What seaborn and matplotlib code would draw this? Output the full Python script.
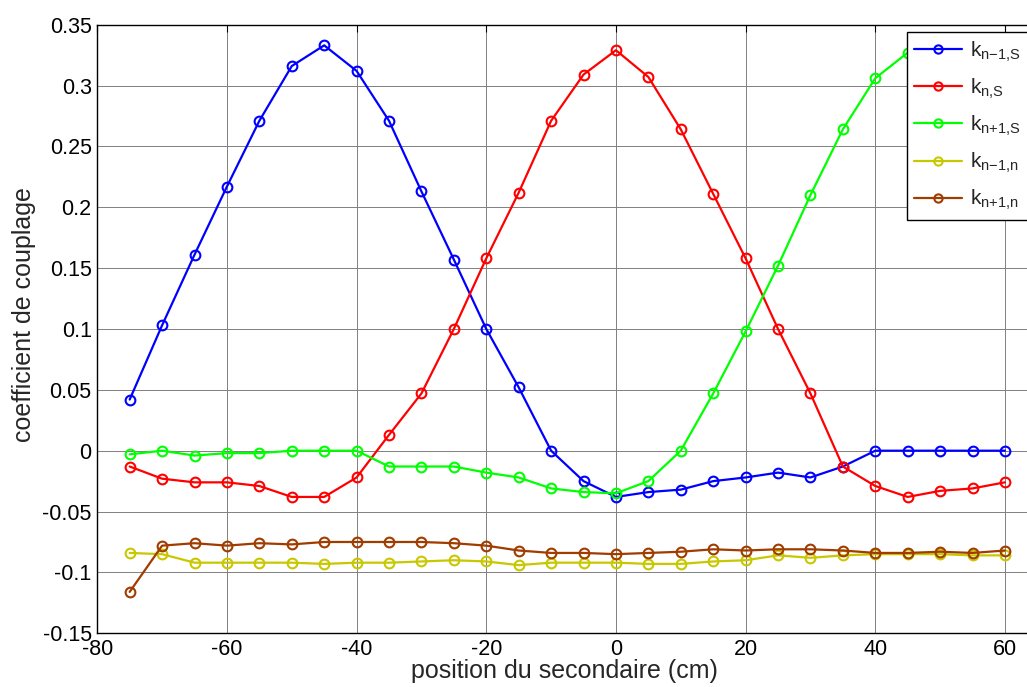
import numpy as np
import pandas as pd
import seaborn as sns
import matplotlib
matplotlib.use("Agg")
import matplotlib.pyplot as plt

# positions (cm)
position = list(range(-75, 61, 5))

k_nm1_S = [0.042, 0.103, 0.161, 0.217, 0.271, 0.316, 0.333, 0.312, 0.271, 0.213,
           0.157, 0.100, 0.052, 0.0, -0.025, -0.038, -0.034, -0.032, -0.025, -0.022,
           -0.018, -0.022, -0.013, 0.0, 0.0, 0.0, 0.0, 0.0]
k_n_S = [-0.013, -0.023, -0.026, -0.026, -0.029, -0.038, -0.038, -0.022, 0.013, 0.047,
         0.100, 0.158, 0.212, 0.271, 0.309, 0.329, 0.307, 0.264, 0.211, 0.158,
         0.100, 0.047, -0.013, -0.029, -0.038, -0.033, -0.031, -0.026]
k_np1_S = [-0.003, 0.0, -0.004, -0.002, -0.002, 0.0, 0.0, 0.0, -0.013, -0.013,
           -0.013, -0.018, -0.022, -0.031, -0.034, -0.035, -0.025, 0.0, 0.047, 0.098,
           0.152, 0.210, 0.264, 0.306, 0.327, 0.307, 0.264, 0.211]
k_nm1_n = [-0.084, -0.085, -0.092, -0.092, -0.092, -0.092, -0.093, -0.092, -0.092, -0.091,
           -0.090, -0.091, -0.094, -0.092, -0.092, -0.092, -0.093, -0.093, -0.091, -0.090,
           -0.086, -0.088, -0.086, -0.085, -0.085, -0.085, -0.086, -0.086]
k_np1_n = [-0.116, -0.078, -0.076, -0.078, -0.076, -0.077, -0.075, -0.075, -0.075, -0.075,
           -0.076, -0.078, -0.082, -0.084, -0.084, -0.085, -0.084, -0.083, -0.081, -0.082,
           -0.081, -0.081, -0.082, -0.084, -0.084, -0.083, -0.084, -0.082]

# {-} / {+} : pas d'espace autour des operateurs dans les indices
labels = ["$k_{n{-}1{,}S}$", "$k_{n{,}S}$", "$k_{n{+}1{,}S}$", "$k_{n{-}1{,}n}$", "$k_{n{+}1{,}n}$"]
couleurs = ["#0000ff", "#ff0000", "#00ff00", "#c8c800", "#a03c00"]

sns.set_style("white")
plt.rcParams['font.family'] = ['Liberation Sans', 'DejaVu Sans']
plt.rcParams['mathtext.fontset'] = 'custom'
plt.rcParams['mathtext.rm'] = 'Liberation Sans'
plt.rcParams['mathtext.it'] = 'Liberation Sans'
plt.rcParams['mathtext.default'] = 'regular'
plt.rcParams['axes.unicode_minus'] = False

fig = plt.figure(figsize=(10.27, 6.87), dpi=100)
ax = fig.add_axes([0.0947, 0.0782, 0.9053, 0.8859])

series = [k_nm1_S, k_n_S, k_np1_S, k_nm1_n, k_np1_n]
for vals, lab, c in zip(series, labels, couleurs):
    sns.lineplot(x=position, y=vals, ax=ax, color=c, label=lab, marker='o',
                 markersize=7, markerfacecolor='none', markeredgecolor=c,
                 markeredgewidth=1.5, linewidth=1.6)

ax.set_xlim(-80, 63.4)
ax.set_ylim(-0.15, 0.35)
ax.set_xticks(np.arange(-80, 61, 20))
ax.set_yticks(np.arange(-0.15, 0.351, 0.05))
ax.set_yticklabels(["-0.15", "-0.1", "-0.05", "0", "0.05", "0.1", "0.15", "0.2",
                    "0.25", "0.3", "0.35"])
ax.grid(True, color='0.5', linewidth=0.7)
ax.tick_params(direction='in', length=5, labelsize=15.5, top=True, right=False,
               colors='black')
ax.tick_params(axis='x', pad=4)
ax.tick_params(axis='y', pad=4)
for s in ['left', 'bottom', 'top']:
    ax.spines[s].set_color('black')
    ax.spines[s].set_linewidth(1.0)
ax.spines['right'].set_visible(False)

ax.set_xlabel("position du secondaire (cm)", fontsize=18)
ax.set_ylabel("coefficient de couplage", fontsize=18)
ax.xaxis.set_label_coords(0.503, -0.043)
ax.yaxis.set_label_coords(-0.066, 0.523)

leg = ax.legend(loc='upper left', bbox_to_anchor=(0.883, 0.953),
                bbox_transform=fig.transFigure, fontsize=15, frameon=True,
                fancybox=False, edgecolor='black', framealpha=1,
                handlelength=2.3, borderpad=0.35, labelspacing=0.62,
                handletextpad=0.4, markerscale=0.85, borderaxespad=0)
leg.get_frame().set_linewidth(1.0)

fig.savefig("out.png", dpi=100)
